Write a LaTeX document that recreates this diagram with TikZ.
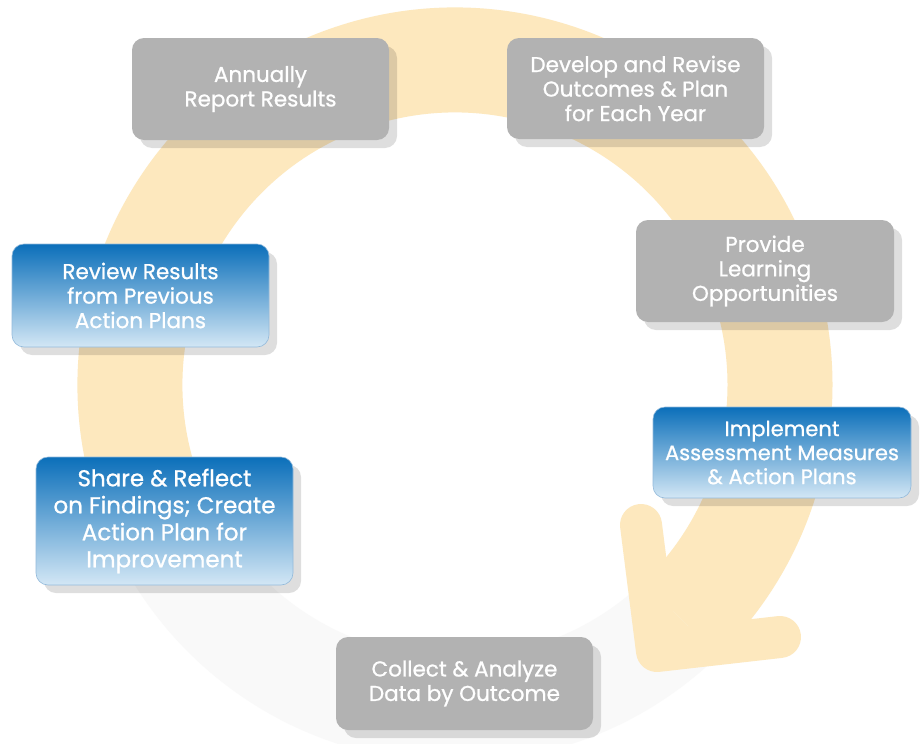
\documentclass[tikz,border=0pt]{standalone}
\usepackage{fontspec}
\setmainfont{Poppins}[FakeBold=0.9]
\usetikzlibrary{shadows,calc}
\definecolor{ringY}{HTML}{FDE8BE}
\definecolor{ringG}{HTML}{F9F9F9}
\definecolor{boxG}{HTML}{B2B2B2}
\definecolor{blueT}{HTML}{0B6FBA}
\definecolor{blueB}{HTML}{D3E7F5}
\definecolor{blueE}{HTML}{93BADB}
\begin{document}
\begin{tikzpicture}[x=1pt,y=-1pt,
  card/.style={rounded corners=12pt, minimum width=257pt, inner sep=0pt, text=white, align=center,
    font=\fontsize{21.5}{24.5}\selectfont,
    drop shadow={shadow xshift=8pt, shadow yshift=-8pt, opacity=0.13, fill=black}},
  graybox/.style={card, fill=boxG},
  bluebox/.style={card, top color=blueT, bottom color=blueB, draw=blueE, line width=0.6pt}]
\useasboundingbox (0,0) rectangle (921,744);
\fill[white] (0,0) rectangle (921,744);
% ring
\draw[ringG, line width=105pt] (455,385) ++(155:325) arc[start angle=155, end angle=40, radius=325];
\draw[ringY, line width=105pt] (455,385) ++(-200:325) arc[start angle=-200, end angle=46, radius=325];
\coordinate (armA) at (641,525);
\coordinate (tip) at (657,651);
\coordinate (armB) at (780,637);
\coordinate (endIn) at ($(455,385)+(46:272)$);
\coordinate (endOut) at ($(455,385)+(46:377)$);
\fill[ringY] (endIn) -- (tip) -- (endOut) -- cycle;
\draw[ringY, line width=42pt, line cap=round, line join=round] (armA) -- (tip) -- (armB);
% boxes
\node[graybox, minimum height=102pt] (ann) at (260.5,89) {Annually\\Report Results};
\node[graybox, minimum height=101pt] (dev) at (635.5,88.5) {Develop and Revise\\Outcomes \& Plan\\for Each Year};
\node[graybox, minimum height=102pt, minimum width=258pt] (prov) at (765,271) {Provide\\Learning\\Opportunities};
\node[bluebox, minimum height=91pt, minimum width=258pt, font=\fontsize{21}{24}\selectfont] (impl) at (782,452.5) {Implement\\Assessment Measures\\\& Action Plans};
\node[graybox, minimum height=93pt] (coll) at (464.5,683.5) {Collect \& Analyze\\Data by Outcome};
\node[bluebox, minimum height=128pt, font=\fontsize{23}{27}\selectfont] (share) at (164.5,521) {Share \& Reflect\\on Findings; Create\\Action Plan for\\Improvement};
\node[bluebox, minimum height=103pt] (rev) at (140.5,295.5) {Review Results\\from Previous\\Action Plans};
\end{tikzpicture}
\end{document}
